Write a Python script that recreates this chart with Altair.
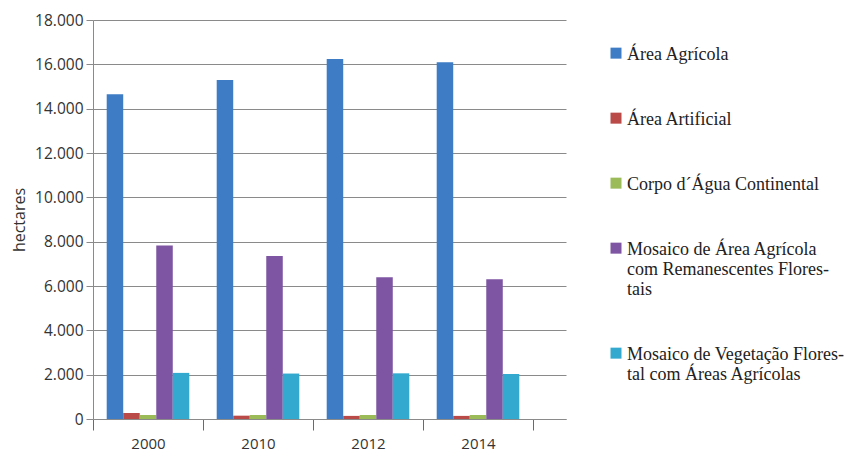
import altair as alt
import pandas as pd

years = ["2000", "2010", "2012", "2014"]
series = [
    "Área Agrícola",
    "Área Artificial",
    "Corpo d´Água Continental",
    "Mosaico de Área Agrícola com Remanescentes Florestais",
    "Mosaico de Vegetação Florestal com Áreas Agrícolas",
]
legend_labels = [
    "Área Agrícola",
    "Área Artificial",
    "Corpo d´Água Continental",
    "Mosaico de Área Agrícola|com Remanescentes Flores-|tais",
    "Mosaico de Vegetação Flores-|tal com Áreas Agrícolas",
]
colors = ["#3E7CC6", "#B94A48", "#9BBB59", "#7E55A3", "#33A9CF"]

area_agricola = [14650, 15290, 16240, 16090]
area_artificial = [270, 150, 140, 140]
corpo_agua = [180, 180, 180, 180]
mosaico_agricola = [7830, 7350, 6400, 6310]
mosaico_vegetacao = [2080, 2050, 2060, 2030]

values = [area_agricola, area_artificial, corpo_agua, mosaico_agricola, mosaico_vegetacao]
rows = []
for s, lab, vals in zip(series, legend_labels, values):
    for y, v in zip(years, vals):
        rows.append({"ano": y, "serie": s, "rotulo": lab, "hectares": v})
df = pd.DataFrame(rows)

label_expr = "split(datum.label, '|')"
# square symbol drawn slightly below the entry anchor so it lines up with the first text line
square_low = "M-1,0.3L1,0.3L1,2.3L-1,2.3Z"

chart = alt.Chart(df).mark_bar().encode(
    x=alt.X("ano:N", sort=years, title=None,
            scale=alt.Scale(paddingInner=0, paddingOuter=0.15, align=0),
            axis=alt.Axis(labelAngle=0, tickBand="extent", domainColor="#8a8a8a",
                          tickColor="#6a6a6a", tickSize=11, labelFont="Open Sans",
                          labelFontSize=15, labelColor="#333333", labelPadding=6,
                          grid=False)),
    xOffset=alt.XOffset("rotulo:N", sort=legend_labels,
                        scale=alt.Scale(paddingInner=0, paddingOuter=0.83)),
    y=alt.Y("hectares:Q", title="hectares",
            scale=alt.Scale(domain=[0, 18000], nice=False),
            axis=alt.Axis(values=list(range(0, 18001, 2000)),
                          labelExpr="replace(format(datum.value, ','), ',', '.')",
                          labelFont="Open Sans", labelFontSize=15.5, labelColor="#333333",
                          titleFont="Open Sans", titleFontSize=16, titleFontWeight="normal",
                          titleColor="#333333", titlePadding=7,
                          gridColor="#8a8a8a", gridWidth=1, domainColor="#8a8a8a",
                          tickColor="#8a8a8a", tickSize=7, labelPadding=3)),
    color=alt.Color("rotulo:N", sort=legend_labels,
                    scale=alt.Scale(domain=legend_labels, range=colors),
                    legend=alt.Legend(title=None, labelExpr=label_expr, orient="none",
                                      legendX=514, legendY=17, padding=0,
                                      labelFont="Liberation Serif", labelFontSize=18,
                                      labelColor="#222222", labelBaseline="top",
                                      symbolType=square_low,
                                      symbolSize=121, symbolStrokeWidth=0,
                                      labelLimit=400, rowPadding=38,
                                      labelOffset=2)),
).properties(
    width=473, height=399,
    padding={"left": 3, "top": 5, "right": 0, "bottom": 0},
).configure_view(stroke=None)

chart.save("out.html", embed_options={"renderer": "svg", "actions": False})
